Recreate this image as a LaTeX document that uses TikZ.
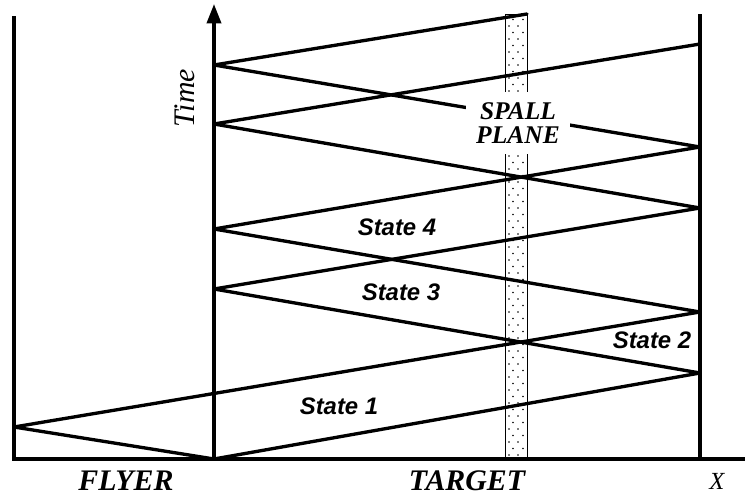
\documentclass[tikz,border=0pt]{standalone}
\usepackage{fontspec}
\setmainfont{Liberation Serif}
\setsansfont{Liberation Sans}
\usetikzlibrary{arrows.meta}
\tikzset{
  wave/.style={
    line width=1.9pt,
    line cap=round,
    line join=round
  },
  wall/.style={line width=1.9pt},
  fine/.style={line width=0.5pt},
  state-label/.style={
    font=\sffamily\bfseries\itshape\fontsize{13.6}{16}\selectfont,
    inner sep=0pt
  },
  region-label/.style={
    font=\bfseries\itshape\fontsize{17}{19}\selectfont,
    inner sep=0pt
  }
}

\begin{document}
\begin{tikzpicture}[x=0.02cm, y=0.02cm]
  \useasboundingbox (0,0) rectangle (745,495);
  % walls, ground and time axis
  \coordinate (o) at (14,36);
  \coordinate (flyer-top) at (14,479);
  \coordinate (t0) at (214,36);
  \coordinate (axis-top) at (214,491);
  \coordinate (rear) at (700,36);
  \coordinate (rear-top) at (700,481);
  \coordinate (x-end) at (745,36);
  % spall strip
  \coordinate (sp-a) at (505,36);
  \coordinate (sp-b) at (527,481);
  \draw[fine] (sp-a) rectangle (sp-b);
  \foreach \k in {0,...,33} {
    \fill (509,40+13*\k) circle (0.5pt);
    \fill (518,40+13*\k) circle (0.5pt);
    \fill (513,46.5+13*\k) circle (0.5pt);
    \fill (523,46.5+13*\k) circle (0.5pt);
  }
  % reflection points
  \coordinate (f1) at (14,68);
  \coordinate (r1) at (700,122);
  \coordinate (r1b) at (700,183);
  \coordinate (l1) at (214,206);
  \coordinate (l1b) at (214,266);
  \coordinate (r2) at (700,287);
  \coordinate (r2b) at (700,348);
  \coordinate (l2) at (214,371);
  \coordinate (l2b) at (214,430);
  \coordinate (r3) at (700,451);
  \coordinate (sp-top) at (527,481);
  \draw[wave] (t0) -- (r1) -- (l1) -- (r2) -- (l2) -- (r3);
  \draw[wave] (t0) -- (f1) -- (r1b) -- (l1b) -- (r2b) -- (l2b) -- (sp-top);
  \draw[wall] (flyer-top) -- (o) -- (x-end);
  \draw[wall] (rear) -- (rear-top);
  \draw[wall, -{Triangle[length=11pt,width=8pt]}] (t0) -- (axis-top);
  % labels
  \node[font=\itshape\fontsize{17}{19}\selectfont, rotate=90] (time) at (185,397) {Time};
  \node[region-label] (flyer) at (126,14) {FLYER};
  \node[region-label] (target) at (467,14) {TARGET};
  \node[font=\itshape\fontsize{14}{16}\selectfont] (x) at (717,14) {X};
  \node[region-label, font=\bfseries\itshape\fontsize{14.5}{13.5}\selectfont,
        fill=white, align=center, inner sep=6pt] (spall) at (518,372) {SPALL\\PLANE};
  \node[state-label] (s1) at (339,89) {State 1};
  \node[state-label] (s2) at (652,155) {State 2};
  \node[state-label] (s3) at (401,203) {State 3};
  \node[state-label] (s4) at (397,268) {State 4};
\end{tikzpicture}
\end{document}
